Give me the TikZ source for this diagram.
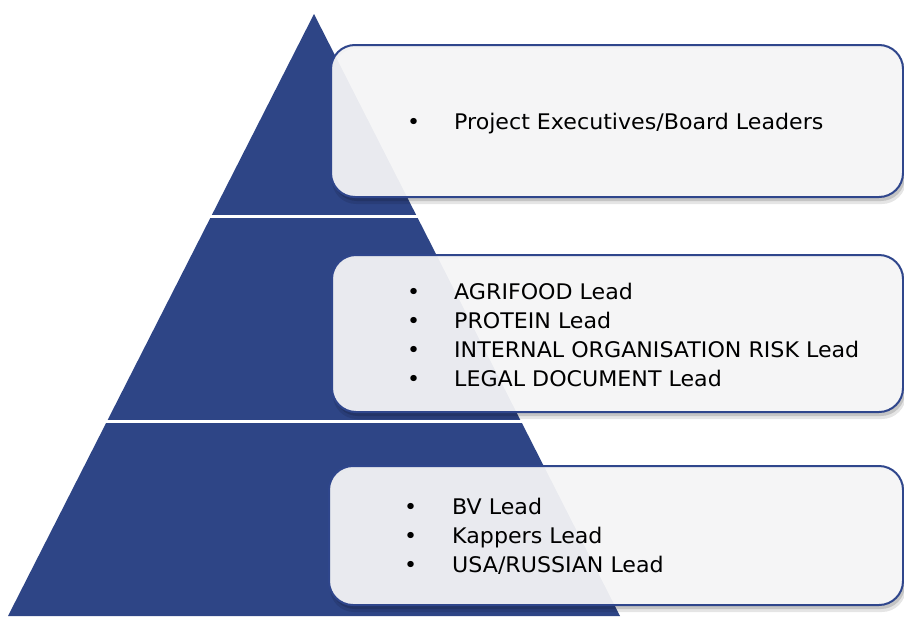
\documentclass[tikz,border=0pt]{standalone}
\usepackage{fontspec}
\setmainfont{DejaVu Sans}[FakeStretch=1.03]
\definecolor{pyrblue}{RGB}{46,69,134}
\definecolor{boxfill}{RGB}{245,245,246}
\definecolor{boxedge}{RGB}{47,70,140}
\tikzset{
  pyr/.style={fill=pyrblue},
  gapline/.style={draw=white, line width=3pt},
  infobox/.style={rectangle, rounded corners=24pt, fill=boxfill, fill opacity=0.94,
    draw=boxedge, draw opacity=1, line width=2pt, inner sep=0pt},
  listtext/.style={anchor=west, inner sep=0pt, text opacity=1,
    font=\fontsize{21.5}{29}\selectfont, align=left}
}
\begin{document}
\begin{tikzpicture}[x=1pt, y=-1pt]
\path[use as bounding box, fill=white] (0,0) rectangle (904,616);
% pyramid
\fill[pyr] (314,14) -- (8,616) -- (620,616) -- cycle;
\draw[gapline] (150,216.5) -- (480,216.5);
\draw[gapline] (60,421.5) -- (580,421.5);
% shadows (outside the boxes only)
\foreach \xa/\ya/\xb/\yb in {331/45/903/197, 332/255/903/412, 329/466/903/605}{
  \fill[black, opacity=0.10, even odd rule, rounded corners=24pt]
    (\xa+1,\ya+4) rectangle (\xb+3,\yb+7) (\xa,\ya) rectangle (\xb,\yb);
  \fill[black, opacity=0.14, even odd rule, rounded corners=24pt]
    (\xa+2,\ya+3) rectangle (\xb+2,\yb+4) (\xa,\ya) rectangle (\xb,\yb);
}
% boxes
\node[infobox, minimum width=572pt, minimum height=152pt] (b1) at (617,121) {};
\node[infobox, minimum width=571pt, minimum height=157pt] (b2) at (617.5,333.5) {};
\node[infobox, minimum width=574pt, minimum height=139pt] (b3) at (616,535.5) {};
% texts
\node[listtext] (t1) at (407,124) {\begin{tabular}{@{}p{47pt}@{}l@{}}
\textbullet & Project Executives/Board Leaders
\end{tabular}};
\node[listtext] (t2) at (407,337) {\begin{tabular}{@{}p{47pt}@{}l@{}}
\textbullet & AGRIFOOD Lead\\
\textbullet & PROTEIN Lead\\
\textbullet & INTERNAL ORGANISATION RISK Lead\\
\textbullet & LEGAL DOCUMENT Lead
\end{tabular}};
\node[listtext] (t3) at (404,538) {\begin{tabular}{@{}p{48pt}@{}l@{}}
\textbullet & BV Lead\\
\textbullet & Kappers Lead\\
\textbullet & USA/RUSSIAN Lead
\end{tabular}};
\end{tikzpicture}
\end{document}
